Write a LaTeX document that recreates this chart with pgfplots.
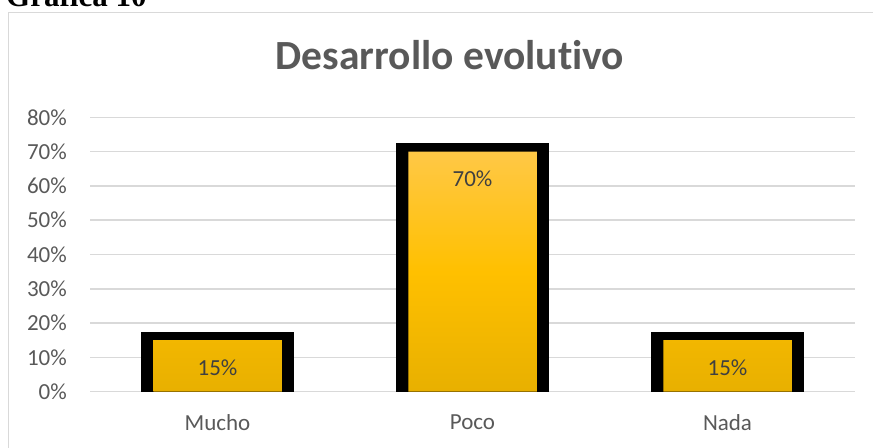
\documentclass[border=0pt]{standalone}
\usepackage{fontspec}
\setmainfont{Carlito}[Ligatures=NoCommon]
\newfontfamily\timesfont{Liberation Serif}
\usepackage{pgfplots}
\pgfplotsset{compat=1.18}
\definecolor{gridc}{HTML}{D9D9D9}
\definecolor{txt}{HTML}{595959}
\definecolor{lbl}{HTML}{404040}
\definecolor{goldtop}{HTML}{FFC846}
\definecolor{goldmid}{HTML}{FFC000}
\definecolor{goldbot}{HTML}{E8B000}
\begin{document}
\begin{tikzpicture}
\useasboundingbox (0bp,0bp) rectangle (873bp,448bp);
\clip (0bp,0bp) rectangle (873bp,448bp);
\draw[gridc, line width=1.5bp] (8.5bp,-10bp) -- (8.5bp,435.5bp) -- (885bp,435.5bp);
\node[anchor=base west, inner sep=0, font=\timesfont\bfseries\fontsize{31bp}{36bp}\selectfont] at (6bp,441bp) {Gráfica 10};
\node[anchor=base, inner sep=0, text=txt, font=\bfseries\fontsize{41.5bp}{48bp}\selectfont] at (450bp,378bp) {Desarrollo evolutivo};
\begin{axis}[
  at={(90bp,56.3bp)}, anchor=south west, scale only axis,
  width=765bp, height=274.4bp,
  xmin=-0.5, xmax=2.5, ymin=0, ymax=80,
  axis line style={draw=none},
  major tick length=0pt,
  tick style={draw=none},
  ytick={0,10,...,80},
  yticklabel={\pgfmathprintnumber[assume math mode=true]{\tick}\%},
  yticklabel style={anchor=east, inner sep=0pt, xshift=-23bp, text=txt, font=\fontsize{23bp}{27bp}\selectfont},
  xtick={0,1,2},
  xticklabels={Mucho,Poco,Nada},
  xticklabel style={anchor=north, inner sep=0pt, yshift=-23bp, text=txt, font=\fontsize{23bp}{27bp}\selectfont},
  ymajorgrids,
  grid style={gridc, line width=1.5bp},
  clip=true,
]
\addplot[ybar, bar shift=0pt, bar width=135.5bp, fill=black, draw=black, line width=17bp]
  coordinates {(0,15) (1,70) (2,15)};
\addplot[ybar, bar shift=0pt, bar width=128.5bp, draw=none,
  top color=goldtop, bottom color=goldbot, middle color=goldmid,
  nodes near coords={\pgfmathprintnumber[assume math mode=true]{\pgfplotspointmeta}\%},
  every node near coord/.append style={inner sep=0pt, yshift=-35.5bp, text=lbl, font=\fontsize{23bp}{27bp}\selectfont}]
  coordinates {(0,15) (1,70) (2,15)};
\end{axis}
\end{tikzpicture}
\end{document}
